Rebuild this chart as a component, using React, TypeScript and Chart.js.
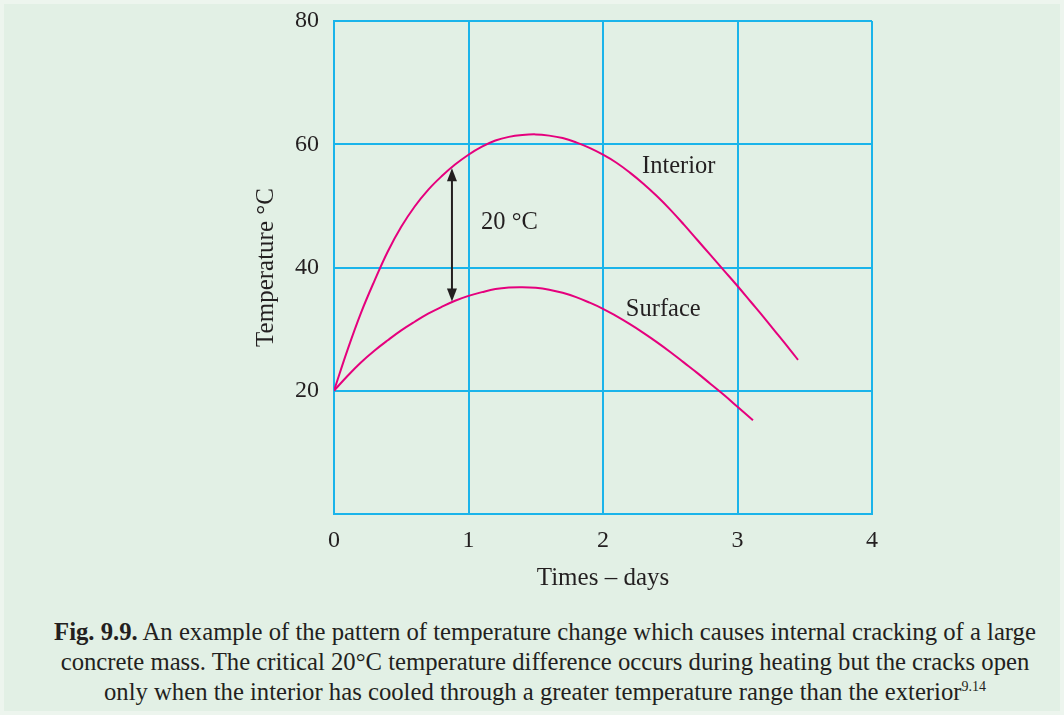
import React, { useEffect, useRef } from "react";
import { Chart, registerables } from "chart.js";

Chart.register(...registerables);

// Interior temperature curve (day, °C)
const interiorDays = [0, 0.1, 0.2, 0.3, 0.4, 0.5, 0.6, 0.7, 0.8, 0.9, 1.0, 1.1, 1.2, 1.3, 1.4, 1.5, 1.6, 1.7, 1.8, 1.9, 2.0, 2.1, 2.2, 2.3, 2.4, 2.5, 2.6, 2.7, 2.8, 2.9, 3.0, 3.1, 3.2, 3.3, 3.4, 3.45];
const interiorTemps = [20, 26.6, 32.6, 37.8, 42.6, 46.6, 49.9, 52.6, 54.8, 56.7, 58.3, 59.6, 60.6, 61.2, 61.5, 61.6, 61.4, 61.0, 60.3, 59.4, 58.3, 57.0, 55.4, 53.6, 51.6, 49.4, 47.0, 44.5, 42.0, 39.5, 37.0, 34.4, 31.8, 29.1, 26.4, 25.0];

// Surface temperature curve (day, °C)
const surfaceDays = [0, 0.1, 0.2, 0.3, 0.4, 0.5, 0.6, 0.7, 0.8, 0.9, 1.0, 1.1, 1.2, 1.3, 1.4, 1.5, 1.6, 1.7, 1.8, 1.9, 2.0, 2.1, 2.2, 2.3, 2.4, 2.5, 2.6, 2.7, 2.8, 2.9, 3.0, 3.115];
const surfaceTemps = [20, 22.4, 24.6, 26.5, 28.2, 29.8, 31.2, 32.5, 33.6, 34.6, 35.4, 36.0, 36.5, 36.75, 36.8, 36.7, 36.4, 35.9, 35.2, 34.3, 33.3, 32.1, 30.8, 29.4, 27.9, 26.3, 24.6, 22.9, 21.1, 19.3, 17.4, 15.2];

const xTicks = [0, 1, 2, 3, 4];
const yTicks = [0, 20, 40, 60, 80];

// Annotations (day, °C)
const labels = [
  { text: "Interior", x: 2.29, y: 56.3 },
  { text: "Surface", x: 2.17, y: 33.2 },
  { text: "20 °C", x: 1.093, y: 47.3 },
];
const arrowDay = 0.877;
const arrowFrom = 56.1;
const arrowTo = 34.5;

const GRID = "#1ab4ea";
const CURVE = "#e5007d";
const INK = "#231f20";
const FONT = "'Liberation Serif', 'Times New Roman', serif";

const annotPlugin = {
  id: "annot",
  afterDatasetsDraw(chart: any) {
    const { ctx, scales } = chart;
    const xs = scales.x;
    const ys = scales.y;
    ctx.save();
    ctx.fillStyle = INK;
    ctx.font = `24.5px ${FONT}`;
    ctx.textBaseline = "middle";
    ctx.textAlign = "left";
    for (const l of labels) {
      ctx.fillText(l.text, xs.getPixelForValue(l.x), ys.getPixelForValue(l.y));
    }
    // double arrow
    const ax = xs.getPixelForValue(arrowDay);
    const y1 = ys.getPixelForValue(arrowFrom);
    const y2 = ys.getPixelForValue(arrowTo);
    const head = 13;
    const hw = 5;
    ctx.strokeStyle = INK;
    ctx.lineWidth = 2;
    ctx.beginPath();
    ctx.moveTo(ax, y1 + head - 2);
    ctx.lineTo(ax, y2 - head + 2);
    ctx.stroke();
    ctx.beginPath();
    ctx.moveTo(ax, y1);
    ctx.lineTo(ax - hw, y1 + head);
    ctx.lineTo(ax + hw, y1 + head);
    ctx.closePath();
    ctx.fill();
    ctx.beginPath();
    ctx.moveTo(ax, y2);
    ctx.lineTo(ax - hw, y2 - head);
    ctx.lineTo(ax + hw, y2 - head);
    ctx.closePath();
    ctx.fill();
    ctx.restore();
  },
};

export default function App() {
  const ref = useRef<HTMLCanvasElement | null>(null);

  useEffect(() => {
    document.body.style.margin = "0";
    const canvas = ref.current;
    if (!canvas) return;
    const chart = new Chart(canvas, {
      type: "line",
      data: {
        datasets: [
          {
            label: "Interior",
            data: interiorDays.map((d, i) => ({ x: d, y: interiorTemps[i] })),
            borderColor: CURVE,
            borderWidth: 2,
            pointRadius: 0,
            fill: false,
            tension: 0.4,
          },
          {
            label: "Surface",
            data: surfaceDays.map((d, i) => ({ x: d, y: surfaceTemps[i] })),
            borderColor: CURVE,
            borderWidth: 2,
            pointRadius: 0,
            fill: false,
            tension: 0.4,
          },
        ],
      },
      options: {
        responsive: false,
        animation: false,
        events: [],
        layout: { padding: { left: 247, right: 192, top: 21, bottom: 3 } },
        plugins: {
          legend: { display: false },
          tooltip: { enabled: false },
        },
        scales: {
          x: {
            type: "linear",
            min: 0,
            max: 4,
            afterBuildTicks: (s: any) => {
              s.ticks = xTicks.map((v) => ({ value: v }));
            },
            afterFit: (s: any) => {
              s.height = 83;
            },
            ticks: {
              color: INK,
              font: { family: FONT, size: 24 },
              padding: 12,
              maxRotation: 0,
            },
            grid: { color: GRID, lineWidth: 2, drawTicks: false },
            border: { color: GRID, width: 2 },
            title: {
              display: true,
              text: "Times – days",
              color: INK,
              font: { family: FONT, size: 25 },
            },
          },
          y: {
            type: "linear",
            min: 0,
            max: 80,
            afterBuildTicks: (s: any) => {
              s.ticks = yTicks.map((v) => ({ value: v }));
            },
            afterFit: (s: any) => {
              s.width = 87;
              s.paddingTop = 0;
              s.paddingBottom = 0;
            },
            ticks: {
              color: INK,
              font: { family: FONT, size: 24 },
              padding: 15,
              callback: (v: any) => (v === 0 ? "" : String(v)),
            },
            grid: { color: GRID, lineWidth: 2, drawTicks: false },
            border: { color: GRID, width: 2 },
            title: {
              display: true,
              text: "Temperature °C",
              color: INK,
              font: { family: FONT, size: 25 },
            },
          },
        },
      },
      plugins: [annotPlugin],
    });
    return () => chart.destroy();
  }, []);

  return (
    <div
      style={{
        position: "fixed",
        left: 0,
        top: 0,
        width: 1064,
        height: 715,
        background: "#e2f0e5",
        boxSizing: "border-box",
        border: "4px solid #edf5ee",
        overflow: "hidden",
      }}
    >
      <canvas
        ref={ref}
        width={1064}
        height={600}
        style={{ position: "absolute", left: -4, top: -4, width: 1064, height: 600 }}
      />
      <div
        style={{
          position: "absolute",
          left: -4,
          top: 613,
          width: 1090,
          textAlign: "center",
          fontFamily: FONT,
          fontSize: 24.7,
          lineHeight: "30px",
          color: INK,
          whiteSpace: "nowrap",
        }}
      >
        <b>Fig. 9.9.</b> An example of the pattern of temperature change which causes internal cracking of a large
        <br />
        concrete mass. The critical 20°C temperature difference occurs during heating but the cracks open
        <br />
        only when the interior has cooled through a greater temperature range than the exterior
        <sup style={{ fontSize: 14, verticalAlign: "9px", lineHeight: 0 }}>9.14</sup>
      </div>
    </div>
  );
}
